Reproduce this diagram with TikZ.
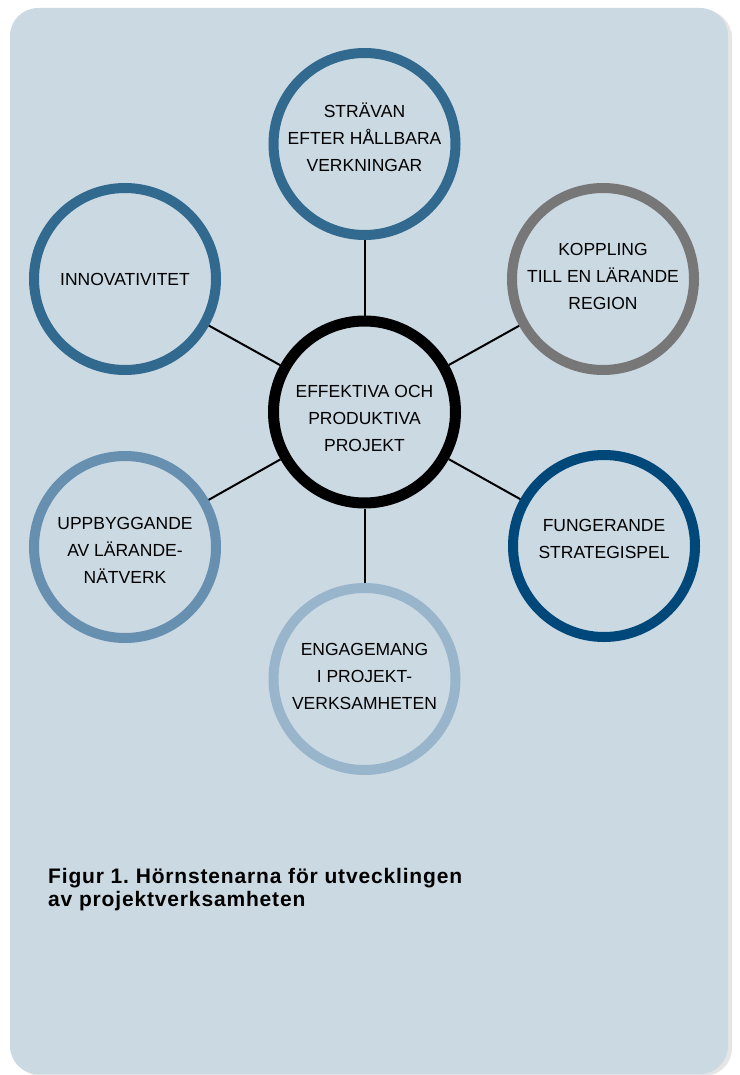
\documentclass[tikz,border=0pt]{standalone}
\usepackage{fontspec}
\setmainfont{Liberation Sans}
\frenchspacing
\definecolor{bgc}{HTML}{CBD9E2}
\definecolor{ringA}{HTML}{31698F}
\definecolor{ringGray}{HTML}{777777}
\definecolor{ringDark}{HTML}{00477A}
\definecolor{ringMid}{HTML}{668FB0}
\definecolor{ringLight}{HTML}{98B5CB}
\newcommand\liftlines[2]{\raisebox{#1}[\height][\depth]{\begin{tabular}{@{}c@{}}#2\end{tabular}}}
\begin{document}
\begin{tikzpicture}[x=1pt,y=-1pt,
  ring/.style={circle, draw=#1, line width=10pt, minimum size=182pt, inner sep=0pt,
    font=\fontsize{17.5}{27}\selectfont, text=black},
  hub/.style={circle, draw=black, line width=11pt, minimum size=182pt, inner sep=0pt,
    font=\fontsize{17.5}{27}\selectfont},
  link/.style={draw=black, line width=2pt}]
\useasboundingbox (0,0) rectangle (739,1075);
\fill[white] (0,0) rectangle (739,1075);
\fill[black!10, rounded corners=28pt] (13,10) rectangle (732,1076);
\fill[bgc, rounded corners=28pt] (10,8) rectangle (728,1074);

\node[hub] (c) at (364.5,412) {\liftlines{-7pt}{EFFEKTIVA OCH\\PRODUKTIVA\\PROJEKT}};
\node[ring=ringA] (t) at (364.5,144) {\liftlines{5pt}{STRÄVAN\\EFTER HÅLLBARA\\VERKNINGAR}};
\node[ring=ringA] (i) at (125,279) {INNOVATIVITET};
\node[ring=ringGray] (k) at (603,279) {\liftlines{2pt}{KOPPLING\\TILL EN LÄRANDE\\REGION}};
\node[ring=ringDark] (f) at (604,546) {\liftlines{6pt}{FUNGERANDE\\STRATEGISPEL}};
\node[ring=ringMid] (u) at (125,547) {\liftlines{-4pt}{UPPBYGGANDE\\AV LÄRANDE-\\NÄTVERK}};
\node[ring=ringLight] (e) at (364.5,679) {\liftlines{2pt}{ENGAGEMANG\\I PROJEKT-\\VERKSAMHETEN}};

\draw[link] (c) -- (t);
\draw[link] (c) -- (i);
\draw[link] (c) -- (k);
\draw[link] (c) -- (f);
\draw[link] (c) -- (u);
\draw[link] (c) -- (e);

\node[anchor=base west, align=left, inner sep=0pt,
  font=\fontsize{21}{23}\selectfont\bfseries\addfontfeatures{LetterSpace=4}]
  (cap) at (48,906) {Figur 1. Hörnstenarna för utvecklingen\\av projektverksamheten};
\end{tikzpicture}
\end{document}
